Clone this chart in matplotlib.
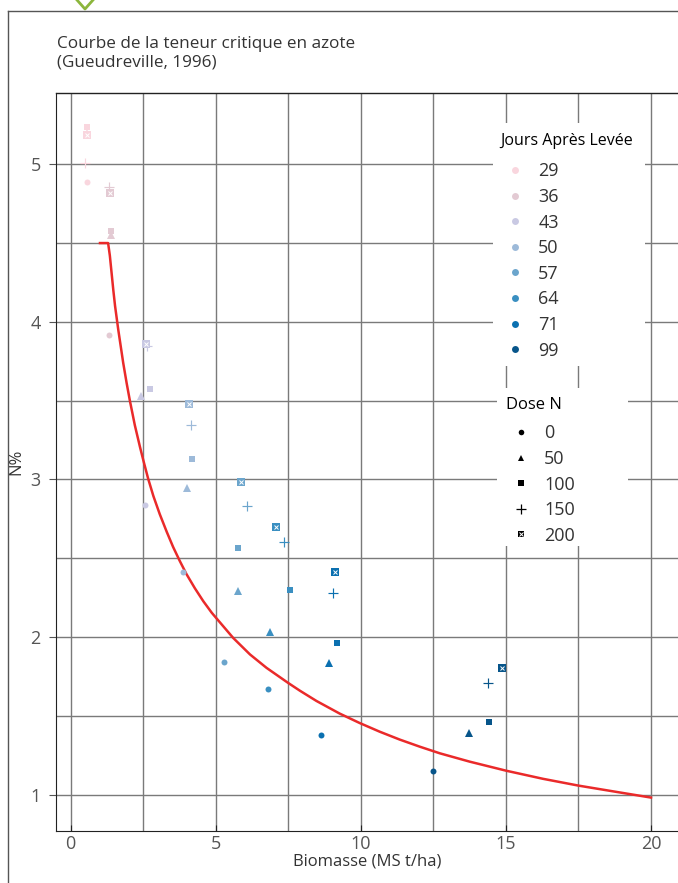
import numpy as np
import matplotlib
matplotlib.use("Agg")
from matplotlib import pyplot as plt
from matplotlib.lines import Line2D
from matplotlib.patches import Rectangle
from matplotlib.legend_handler import HandlerTuple

plt.rcParams['font.family'] = ['Open Sans', 'DejaVu Sans']

# --- data ---
days = [29, 36, 43, 50, 57, 64, 71, 99]
day_colors = ['#f9d6de', '#e3cad3', '#c9c9e3', '#9dbad9', '#6ba5cc', '#3a8fc1', '#0b70b0', '#07558a']

doses = [0, 50, 100, 150, 200]

x_d0 = [0.55, 1.33, 2.56, 3.88, 5.30, 6.79, 8.62, 12.47]
y_d0 = [4.886, 3.917, 2.836, 2.413, 1.84, 1.669, 1.376, 1.149]
x_d50 = [0.55, 1.39, 2.44, 4.01, 5.77, 6.88, 8.90, 13.74]
y_d50 = [5.196, 4.548, 3.529, 2.947, 2.292, 2.03, 1.835, 1.389]
x_d100 = [0.57, 1.40, 2.73, 4.17, 5.78, 7.57, 9.17, 14.41]
y_d100 = [5.238, 4.578, 3.571, 3.128, 2.567, 2.30, 1.961, 1.46]
x_d150 = [0.49, 1.32, 2.62, 4.16, 6.06, 7.35, 9.04, 14.39]
y_d150 = [5.005, 4.855, 3.85, 3.343, 2.831, 2.601, 2.28, 1.708]
x_d200 = [0.55, 1.36, 2.59, 4.08, 5.88, 7.08, 9.11, 14.88]
y_d200 = [5.183, 4.817, 3.862, 3.482, 2.985, 2.70, 2.41, 1.807]

# critical N curve
curve_x = [1.01, 1.29, 1.35, 1.41, 1.47, 1.53, 1.64, 1.81, 1.93, 2.04, 2.21, 2.39, 2.52, 2.67,
           2.85, 3.07, 3.31, 3.53, 3.76, 3.99, 4.28, 4.57, 4.86, 5.03, 5.60, 6.18, 6.75,
           7.49, 7.90, 8.47, 9.27, 9.96, 10.65, 11.34, 12.03, 12.72, 13.75, 15.02, 16.28,
           17.5, 18.81, 20.0]
curve_y = [4.5, 4.5, 4.42, 4.31, 4.20, 4.10, 3.95, 3.74, 3.61, 3.50, 3.345, 3.205, 3.11, 3.005,
           2.895, 2.78, 2.668, 2.572, 2.483, 2.40, 2.31, 2.228, 2.155, 2.118, 1.995, 1.89, 1.805,
           1.71, 1.66, 1.595, 1.515, 1.455, 1.40, 1.35, 1.305, 1.263, 1.21, 1.152, 1.101,
           1.058, 1.018, 0.982]

x_ticks = [0, 5, 10, 15, 20]
y_ticks = [1, 2, 3, 4, 5]

W, H = 678, 883
fig = plt.figure(figsize=(W / 100, H / 100), dpi=100)
ax = fig.add_axes([56 / W, 1 - 831 / H, (W - 56) / W, (831 - 93) / H])
ax.set_xlim(-0.506, 20.93)
ax.set_ylim(0.77, 5.452)

# grid
for gx in np.arange(0, 21, 2.5):
    ax.axvline(gx, color='#7a7a7a', lw=1, zorder=0)
for gy in np.arange(1, 5.5, 0.5):
    ax.axhline(gy, color='#7a7a7a', lw=1, zorder=0)

# white legend backgrounds (hide the grid behind the legends)
for (x0, y0, x1, y1) in [(493, 123, 645, 366), (497, 388, 628, 546)]:
    fig.add_artist(Rectangle((x0 / W, 1 - y1 / H), (x1 - x0) / W, (y1 - y0) / H,
                             transform=fig.transFigure, facecolor='white', edgecolor='none', zorder=1))

ax.plot(curve_x, curve_y, color='#ea2a2a', lw=1.8, zorder=2, solid_joinstyle='round')

ms = {'o': 4.3, '^': 5.5, 's': 4.6, '+': 7.2}
series = [(x_d0, y_d0, 'o'), (x_d50, y_d50, '^'), (x_d100, y_d100, 's'), (x_d150, y_d150, '+')]
for xs, ys, m in series:
    for xv, yv, c in zip(xs, ys, day_colors):
        ax.plot(xv, yv, m, color=c, ms=ms[m], mew=0.85 if m == '+' else 0, zorder=3)
for xv, yv, c in zip(x_d200, y_d200, day_colors):
    ax.plot(xv, yv, 's', color=c, ms=5.2, mew=0, zorder=3)
    ax.plot(xv, yv, 'x', color='white', ms=3.2, mew=0.7, zorder=4)

for s in ['right', 'top']:
    ax.spines[s].set_visible(False)
ax.spines['left'].set_color('#222')
ax.spines['bottom'].set_color('#222')
ax.plot([0, 1], [1, 1], transform=ax.transAxes, color='#222', lw=1, clip_on=False)

ax.set_xticks(x_ticks)
ax.set_yticks(y_ticks)
ax.tick_params(axis='x', direction='in', length=4, colors='#222', labelcolor='#555', labelsize=13, pad=3)
ax.tick_params(axis='y', direction='out', length=5, colors='#555', labelcolor='#555', labelsize=13, pad=6)
ax.set_xlabel('Biomasse (MS t/ha)', fontsize=12, color='#333', labelpad=0)
ax.set_ylabel('N%', fontsize=12, color='#333', labelpad=4)

# legends
h_days = [Line2D([], [], ls='', marker='o', color=c, ms=5, mew=0) for c in day_colors]
leg1 = fig.legend(h_days, [str(d) for d in days], title='Jours Après Levée',
                  loc='upper left', bbox_to_anchor=(493 / W, 1 - 126 / H),
                  frameon=False, fontsize=13, title_fontsize=11.5, labelspacing=0.42,
                  handletextpad=0.5, handlelength=1.6, borderpad=0.4, borderaxespad=0)
leg1._legend_box.align = 'left'
leg1._legend_box.sep = 9.5
leg1.set_zorder(5)
for t in leg1.get_texts():
    t.set_color('#333')

h_dose = [Line2D([], [], ls='', marker='o', color='black', ms=4, mew=0),
          Line2D([], [], ls='', marker='^', color='black', ms=5, mew=0),
          Line2D([], [], ls='', marker='s', color='black', ms=4.5, mew=0),
          Line2D([], [], ls='', marker='+', color='black', ms=7, mew=0.9),
          (Line2D([], [], ls='', marker='s', color='black', ms=5, mew=0),
           Line2D([], [], ls='', marker='x', color='white', ms=3, mew=0.7))]
leg2 = fig.legend(h_dose, [str(d) for d in doses], title='Dose N',
                  loc='upper left', bbox_to_anchor=(499 / W, 1 - 390 / H),
                  frameon=False, fontsize=13, title_fontsize=12, labelspacing=0.42,
                  handletextpad=0.5, handlelength=1.6, borderpad=0.4, borderaxespad=0,
                  handler_map={tuple: HandlerTuple(ndivide=1)})
leg2._legend_box.align = 'left'
leg2._legend_box.sep = 8
leg2.set_zorder(5)
for t in leg2.get_texts():
    t.set_color('#333')

# header text and frame
fig.text(57 / W, 1 - 53 / H, 'Courbe de la teneur critique en azote\n(Gueudreville, 1996)',
         fontsize=12.3, color='#333', va='center', ha='left', linespacing=1.25)
fig.add_artist(Line2D([8 / W, 8 / W], [0, 1 - 11 / H], color='#555', lw=1))
fig.add_artist(Line2D([8 / W, 1], [1 - 11 / H, 1 - 11 / H], color='#555', lw=1))
fig.add_artist(Line2D([77 / W, 85 / W, 93 / W], [1, 1 - 9 / H, 1], color='#8cb63c', lw=2))

fig.savefig('out.png', dpi=100)
